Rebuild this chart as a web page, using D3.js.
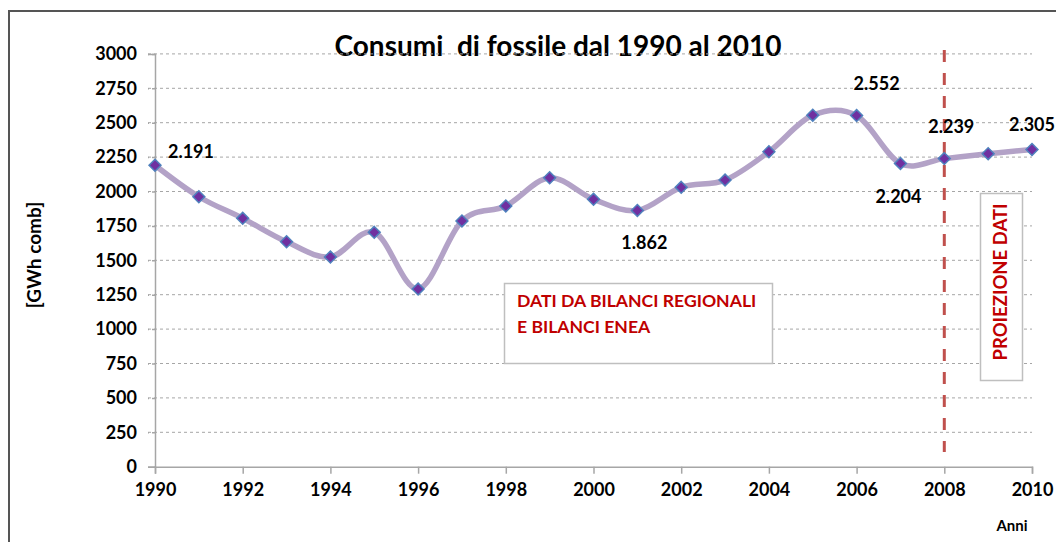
<!DOCTYPE html>
<html>
<head>
<meta charset="utf-8">
<script src="https://cdn.jsdelivr.net/npm/d3@7"></script>
<style>
  body { margin: 0; background: #fff; }
  text { font-family: Lato, "Open Sans", sans-serif; font-weight: bold; }
</style>
</head>
<body>
<script>
// consumi di fossile
var years = [1990, 1991, 1992, 1993, 1994, 1995, 1996, 1997, 1998, 1999, 2000,
             2001, 2002, 2003, 2004, 2005, 2006, 2007, 2008, 2009, 2010];
var consumi = [2191, 1962, 1805, 1635, 1524, 1703, 1291, 1786, 1895, 2100, 1943,
               1862, 2030, 2083, 2289, 2555, 2552, 2204, 2239, 2275, 2305];
var yTicks = [0, 250, 500, 750, 1000, 1250, 1500, 1750, 2000, 2250, 2500, 2750, 3000];
var xTicks = [1990, 1992, 1994, 1996, 1998, 2000, 2002, 2004, 2006, 2008, 2010];
var labelYears = [1990, 2001, 2006, 2007, 2008, 2010];
var projectionYear = 2008;

var width = 1056, height = 542;

var svg = d3.select("body").append("svg")
    .attr("width", width)
    .attr("height", height);

var x = d3.scaleLinear().domain([1990, 2010]).range([155, 1032]);
var y = d3.scaleLinear().domain([0, 3000]).range([466.7, 53.9]);

// outer frame (left + top visible)
svg.append("path")
    .attr("d", "M9," + height + "V11H" + width)
    .attr("fill", "none")
    .attr("stroke", "#555")
    .attr("stroke-width", 2);

// title
svg.append("text")
    .attr("x", 558).attr("y", 45)
    .attr("text-anchor", "middle")
    .attr("dominant-baseline", "central")
    .attr("xml:space", "preserve")
    .style("font-size", "28px")
    .style("fill", "#000")
    .text("Consumi  di fossile dal 1990 al 2010");

// gridlines
svg.append("g").selectAll("line")
    .data(yTicks.filter(function(d){ return d > 0; }))
    .enter().append("line")
    .attr("x1", 148).attr("x2", x(2010))
    .attr("y1", function(d){ return y(d); })
    .attr("y2", function(d){ return y(d); })
    .attr("stroke", "#a6a6a6")
    .attr("stroke-width", 1)
    .attr("stroke-dasharray", "3,3");

// y axis
var yAxis = d3.axisLeft(y).tickValues(yTicks).tickFormat(d3.format("d")).tickSize(7).tickPadding(11);
var gy = svg.append("g").attr("transform", "translate(" + x(1990) + ",0)").call(yAxis);
gy.select(".domain").attr("stroke", "#a6a6a6").attr("stroke-width", 1.5);
gy.selectAll(".tick line").attr("stroke", "#a6a6a6").attr("stroke-width", 1.5)
    .attr("stroke-dasharray", function(d){ return d > 0 ? "3,3" : null; });
gy.selectAll("text").style("font-size", "18px").style("fill", "#000")
    .style("font-family", "Lato, sans-serif");

// x axis
var xAxis = d3.axisBottom(x).tickValues(xTicks).tickFormat(d3.format("d")).tickSize(7).tickPadding(10);
var gx = svg.append("g").attr("transform", "translate(0," + y(0) + ")").call(xAxis);
gx.select(".domain").attr("stroke", "#a6a6a6").attr("stroke-width", 1.5);
gx.selectAll(".tick line").attr("stroke", "#a6a6a6").attr("stroke-width", 1.5);
gx.selectAll("text").style("font-size", "18px").style("fill", "#000")
    .style("font-family", "Lato, sans-serif");

// axis titles
svg.append("text")
    .attr("transform", "translate(33,255) rotate(-90)")
    .attr("text-anchor", "middle")
    .attr("dominant-baseline", "central")
    .style("font-size", "19px")
    .text("[GWh comb]");

svg.append("text")
    .attr("x", 1012).attr("y", 525)
    .attr("text-anchor", "middle")
    .attr("dominant-baseline", "central")
    .style("font-size", "15px")
    .text("Anni");

// projection line
svg.append("line")
    .attr("x1", x(projectionYear)).attr("x2", x(projectionYear))
    .attr("y1", 50).attr("y2", 452)
    .attr("stroke", "#c0504d")
    .attr("stroke-width", 3)
    .attr("stroke-dasharray", "12,11");

// text boxes
svg.append("rect")
    .attr("x", 504.5).attr("y", 283.5).attr("width", 268).attr("height", 80)
    .attr("fill", "#fff").attr("stroke", "#bfbfbf").attr("stroke-width", 1.5);
svg.append("text").attr("x", 517).attr("y", 307)
    .style("font-size", "17.6px").style("fill", "#c00000")
    .text("DATI DA BILANCI REGIONALI");
svg.append("text").attr("x", 517).attr("y", 333)
    .style("font-size", "17.6px").style("fill", "#c00000")
    .text("E BILANCI ENEA");

svg.append("rect")
    .attr("x", 980.5).attr("y", 193.5).attr("width", 42).attr("height", 187)
    .attr("fill", "#fff").attr("stroke", "#bfbfbf").attr("stroke-width", 1.5);
svg.append("text")
    .attr("transform", "translate(1000,282) rotate(-90)")
    .attr("text-anchor", "middle")
    .attr("dominant-baseline", "central")
    .style("font-size", "18.5px").style("fill", "#c00000")
    .text("PROIEZIONE DATI");

// smoothed line
var data = years.map(function(yr, i){ return {year: yr, value: consumi[i]}; });
var line = d3.line()
    .x(function(d){ return x(d.year); })
    .y(function(d){ return y(d.value); })
    .curve(d3.curveCardinal.tension(0));

svg.append("path")
    .datum(data)
    .attr("d", line)
    .attr("fill", "none")
    .attr("stroke", "#b3a2c7")
    .attr("stroke-width", 5.5)
    .attr("stroke-linecap", "round");

// diamond markers
var diamond = d3.symbol().type(d3.symbolDiamond2).size(90);
svg.append("g").selectAll("path")
    .data(data)
    .enter().append("path")
    .attr("d", diamond)
    .attr("transform", function(d){ return "translate(" + x(d.year) + "," + y(d.value) + ")"; })
    .attr("fill", "#7030a0")
    .attr("stroke", "#4f81bd")
    .attr("stroke-width", 1.5);

// data labels (italian thousands separator)
var it = d3.formatLocale({decimal: ",", thousands: ".", grouping: [3], currency: ["", "€"]});
var fmt = it.format(",d");
var labelDx = {1990: 36, 2001: 7, 2006: 20, 2007: -2, 2008: 7, 2010: 0};
var labelDy = {1990: -14, 2001: 32, 2006: -33, 2007: 33, 2008: -33, 2010: -26};

svg.append("g").selectAll("text")
    .data(data.filter(function(d){ return labelYears.indexOf(d.year) >= 0; }))
    .enter().append("text")
    .attr("x", function(d){ return x(d.year) + labelDx[d.year]; })
    .attr("y", function(d){ return y(d.value) + labelDy[d.year]; })
    .attr("text-anchor", "middle")
    .attr("dominant-baseline", "central")
    .style("font-size", "18px")
    .style("fill", "#000")
    .text(function(d){ return fmt(d.value); });
</script>
</body>
</html>
